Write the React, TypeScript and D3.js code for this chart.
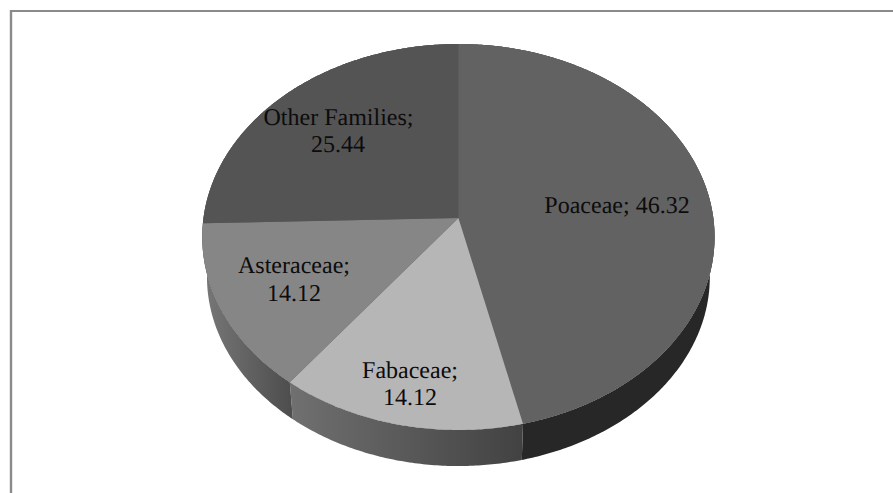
import React from "react";
import * as d3 from "d3";

// Share of species per plant family
const families = ["Poaceae", "Fabaceae", "Asteraceae", "Other Families"];
const shares = [46.32, 14.12, 14.12, 25.44];

const topColors = ["#626262", "#b6b6b6", "#868686", "#545454"];
const sideColorsFrom = ["#272727", "#707070", "#787878", "#3a3a3a"];
const sideColorsTo = ["#272727", "#424242", "#4e4e4e", "#3a3a3a"];

// Label anchors: one [x, baseline] per text line, per family
const labelLines = [
  [{ x: 617, y: 213, text: (n: string, v: number) => `${n}; ${v.toFixed(2)}` }],
  [
    { x: 410, y: 378, text: (n: string) => `${n};` },
    { x: 410, y: 405, text: (_: string, v: number) => v.toFixed(2) },
  ],
  [
    { x: 294, y: 273, text: (n: string) => `${n};` },
    { x: 294, y: 301, text: (_: string, v: number) => v.toFixed(2) },
  ],
  [
    { x: 338.5, y: 125, text: (n: string) => `${n};` },
    { x: 338, y: 152, text: (_: string, v: number) => v.toFixed(2) },
  ],
];

const WIDTH = 893;
const HEIGHT = 493;
const CX = 458.4;
const PERSPECTIVE = -0.0984;

type Disc = { y0: number; a: number; b: number };
const topDisc: Disc = { y0: 218, a: 254.9, b: 191.1 };
const bottomDisc: Disc = { y0: 258.3, a: 250.2, b: 187.3 };

// Perspective projection of a point on a horizontal disc; angle 0 is at the back, clockwise
function project(disc: Disc, angle: number): [number, number] {
  const u = Math.sin(angle);
  const v = -Math.cos(angle);
  const w = 1 + PERSPECTIVE * v;
  return [CX + (disc.a * u) / w, disc.y0 + (disc.b * v) / w];
}

function arcPoints(disc: Disc, start: number, end: number): [number, number][] {
  const steps = Math.max(8, Math.ceil((end - start) / 0.01));
  const t = d3.scaleLinear().domain([0, steps]).range([start, end]);
  return d3.range(steps + 1).map((i) => project(disc, t(i)));
}

const pieAngles = d3
  .pie<number>()
  .sort(null)
  .value((d) => d)(shares);

const line = d3.line();

export default function App() {
  return (
    <svg
      width={WIDTH}
      height={HEIGHT}
      viewBox={`0 0 ${WIDTH} ${HEIGHT}`}
      style={{ position: "absolute", left: 0, top: 0, display: "block", background: "#ffffff" }}
    >
      <defs>
        {pieAngles.map((s, i) => {
          const xs = arcPoints(topDisc, s.startAngle, s.endAngle).map((p) => p[0]);
          return (
            <linearGradient
              key={i}
              id={`side-${i}`}
              gradientUnits="userSpaceOnUse"
              x1={d3.min(xs)}
              x2={d3.max(xs)}
              y1={0}
              y2={0}
            >
              <stop offset="0" stopColor={sideColorsFrom[i]} />
              <stop offset="1" stopColor={sideColorsTo[i]} />
            </linearGradient>
          );
        })}
      </defs>

      {/* chart frame: only the top and left edges fall inside the view */}
      <line x1={10} x2={WIDTH} y1={11} y2={11} stroke="#8a8a8a" strokeWidth={2} />
      <line x1={11} x2={11} y1={10} y2={HEIGHT} stroke="#8a8a8a" strokeWidth={2.4} />

      {/* rim of the disc */}
      {pieAngles.map((s, i) => {
        const upper = arcPoints(topDisc, s.startAngle, s.endAngle);
        const lower = arcPoints(bottomDisc, s.startAngle, s.endAngle).reverse();
        return <path key={i} d={line([...upper, ...lower]) + "Z"} fill={`url(#side-${i})`} />;
      })}

      {/* underlay that keeps the joins between faces from showing the page */}
      <path
        d={line(arcPoints(topDisc, 0.02, 2 * Math.PI - 0.02)) + "Z"}
        fill={topColors[0]}
      />

      {/* upper face */}
      {pieAngles.map((s, i) => {
        const rim = arcPoints(topDisc, s.startAngle, s.endAngle);
        const center: [number, number] = [CX, topDisc.y0];
        return <path key={i} d={line([center, ...rim]) + "Z"} fill={topColors[i]} />;
      })}

      {/* value labels */}
      <g
        fontFamily="'Liberation Serif', serif"
        fontSize={24}
        fill="#0c0c0c"
        textAnchor="middle"
        textRendering="geometricPrecision"
      >
        {families.map((name, i) =>
          labelLines[i].map((l, j) => (
            <text key={`${i}-${j}`} x={l.x} y={l.y}>
              {l.text(name, shares[i])}
            </text>
          ))
        )}
      </g>
    </svg>
  );
}
